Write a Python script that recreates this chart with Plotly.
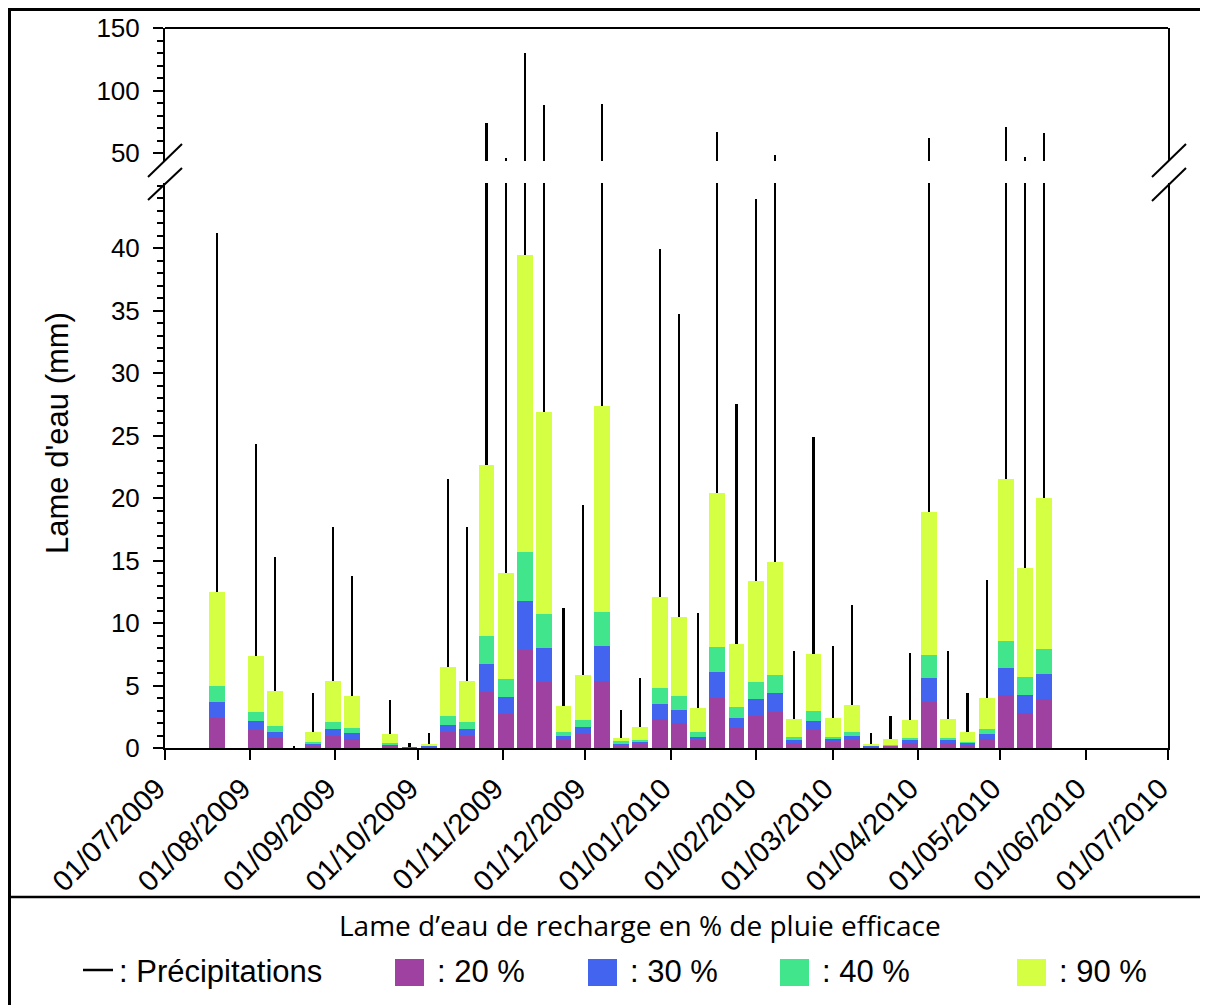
import plotly.graph_objects as go
import pandas as pd

# ---- data ----
week_start = "2009-07-20"
n_weeks = 44
weeks = pd.date_range(week_start, periods=n_weeks, freq="7D")

precip = [41.2, 0, 24.3, 15.25, 0.2, 4.43, 17.65, 13.8, 0, 3.81,
          0.4, 1.2, 21.5, 17.65, 74.5, 46.0, 130.0, 88.4, 11.23, 19.45,
          89.7, 3.01, 5.63, 39.95, 34.7, 10.83, 67.3, 27.5, 43.95, 48.6,
          7.79, 24.9, 8.19, 11.41, 1.17, 2.56, 7.63, 62.5, 7.79, 4.4,
          13.41, 71.0, 46.8, 66.0]
r20 = [2.43, 0, 1.41, 0.83, 0, 0.16, 0.99, 0.75, 0, 0.19,
       0.02, 0.06, 1.25, 0.99, 4.45, 2.75, 7.81, 5.25, 0.61, 1.09,
       5.36, 0.19, 0.35, 2.29, 2.03, 0.64, 4.0, 1.6, 2.59, 2.88,
       0.37, 1.44, 0.45, 0.61, 0.08, 0.1, 0.37, 3.68, 0.37, 0.24,
       0.72, 4.24, 2.83, 3.95]
r30 = [3.71, 0, 2.16, 1.28, 0, 0.32, 1.49, 1.2, 0, 0.27,
       0.03, 0.09, 1.87, 1.52, 6.69, 4.11, 11.73, 7.97, 0.93, 1.65,
       8.13, 0.32, 0.48, 3.55, 3.07, 0.91, 6.05, 2.43, 3.89, 4.37,
       0.64, 2.13, 0.69, 0.96, 0.1, 0.16, 0.61, 5.57, 0.61, 0.37,
       1.12, 6.37, 4.24, 5.92]
r40 = [4.93, 0, 2.91, 1.73, 0, 0.48, 2.05, 1.6, 0, 0.37,
       0.04, 0.12, 2.53, 2.05, 8.99, 5.52, 15.65, 10.69, 1.25, 2.27,
       10.85, 0.53, 0.61, 4.77, 4.16, 1.25, 8.08, 3.31, 5.28, 5.81,
       0.85, 2.93, 0.91, 1.31, 0.16, 0.21, 0.83, 7.47, 0.83, 0.48,
       1.55, 8.53, 5.71, 7.95]
r90 = [12.45, 0, 7.33, 4.56, 0, 1.31, 5.33, 4.13, 0, 1.09,
       0.08, 0.35, 6.5, 5.33, 22.64, 13.97, 39.41, 26.9, 3.33, 5.81,
       27.33, 0.83, 1.65, 12.11, 10.48, 3.23, 20.4, 8.29, 13.33, 14.85,
       2.29, 7.49, 2.43, 3.41, 0.32, 0.75, 2.27, 18.88, 2.29, 1.28,
       4.03, 21.52, 14.43, 20.03]

series_labels = [": 20 %", ": 30 %", ": 40 %", ": 90 %"]
precip_label = ": Précipitations"
legend_title = "Lame d\u2019eau de recharge en % de pluie efficace"
y_title = "Lame d'eau (mm)"
lower_ticks = [0, 5, 10, 15, 20, 25, 30, 35, 40]
upper_ticks = [50, 100, 150]

# ---- style ----
PURPLE = "#9E41A0"
BLUE = "#4264EE"
GREEN = "#40E58C"
YELLOW = "#D4FF42"
colors = [PURPLE, BLUE, GREEN, YELLOW]
DAY = 86400000
FONT = "Liberation Sans, Arial, sans-serif"

# page offset of the figure (browser default body margin)
OFF = 8
W, H = 1208 - OFF, 1005 - OFF
# plot area in page pixels
L, R, T, B = 165, 1168, 28, 748
PW, PH = R - L, B - T


def px(x):
    return (x - L) / PW


def py(y):
    return (B - y) / PH


fig = go.Figure()

# precipitation sticks (behind the bars), on both the lower and the upper panels
for yax in ["y", "y2"]:
    fig.add_trace(go.Bar(x=weeks, y=precip, width=0.8 * DAY, marker_color="black",
                         marker_line_width=0, opacity=1, xaxis="x", yaxis=yax,
                         showlegend=False, hoverinfo="skip"))

# recharge bars, overlaid: 90 % at the back, 20 % in front
for vals, col in [(r90, YELLOW), (r40, GREEN), (r30, BLUE), (r20, PURPLE)]:
    fig.add_trace(go.Bar(x=weeks, y=vals, width=5.75 * DAY, marker_color=col,
                         marker_line_width=0, opacity=1, xaxis="x", yaxis="y",
                         showlegend=False))

lower_top = py(183)
upper_bottom = py(161)

fig.update_layout(
    width=W, height=H,
    margin=dict(l=L - OFF, r=1208 - R, t=T - OFF, b=1005 - B, pad=0, autoexpand=False),
    paper_bgcolor="white", plot_bgcolor="white",
    barmode="overlay", bargap=0,
    showlegend=False,
    font=dict(family=FONT, color="black", size=25),
    xaxis=dict(
        type="date", range=["2009-07-01", "2010-07-01"],
        tick0="2009-07-01", dtick="M1", tickformat="%d/%m/%Y",
        tickangle=-45, ticks="outside", ticklen=10, tickwidth=2, tickcolor="black",
        showline=True, linewidth=2, linecolor="black", showgrid=False, zeroline=False,
        tickfont=dict(size=29, family=FONT), anchor="y", automargin=False,
        ticklabelshift=-8,
    ),
    yaxis=dict(
        domain=[0, lower_top], range=[0, 45.2],
        tickmode="array", tickvals=lower_ticks,
        ticks="outside", ticklen=10, tickwidth=2, tickcolor="black",
        minor=dict(tick0=0, dtick=1, ticks="outside", ticklen=6, tickwidth=2, tickcolor="black"),
        showline=True, mirror=True, linewidth=2, linecolor="black",
        showgrid=False, zeroline=False, tickfont=dict(size=26, family=FONT), anchor="x",
        automargin=False, ticklabelstandoff=8,
    ),
    yaxis2=dict(
        domain=[upper_bottom, 1], range=[43.8, 150],
        tickmode="array", tickvals=upper_ticks,
        ticks="outside", ticklen=10, tickwidth=2, tickcolor="black",
        minor=dict(tick0=0, dtick=10, ticks="outside", ticklen=6, tickwidth=2, tickcolor="black"),
        showline=True, mirror=True, linewidth=2, linecolor="black",
        showgrid=False, zeroline=False, tickfont=dict(size=26, family=FONT), anchor="x",
        automargin=False, ticklabelstandoff=8,
    ),
)

shapes = []
# top frame of the upper panel
shapes.append(dict(type="line", xref="paper", yref="paper", x0=0, x1=1, y0=1, y1=1,
                   line=dict(color="black", width=2)))
# axis-break marks
for (x0, y0, x1, y1) in [(148, 177, 182, 144), (148, 200, 182, 168),
                         (1152, 177, 1186, 144), (1152, 201, 1186, 168)]:
    shapes.append(dict(type="line", xref="paper", yref="paper",
                       x0=px(x0), y0=py(y0), x1=px(x1), y1=py(y1),
                       line=dict(color="black", width=2)))
# outer figure border and legend separator
shapes.append(dict(type="line", xref="paper", yref="paper", x0=px(8), x1=px(1212),
                   y0=py(9.5), y1=py(9.5), line=dict(color="black", width=3)))
shapes.append(dict(type="line", xref="paper", yref="paper", x0=px(9.5), x1=px(9.5),
                   y0=py(8), y1=py(1010), line=dict(color="black", width=3)))
shapes.append(dict(type="line", xref="paper", yref="paper", x0=px(8), x1=px(1212),
                   y0=py(897), y1=py(897), line=dict(color="black", width=2.5)))

# legend keys
leg_y = 972
shapes.append(dict(type="line", xref="paper", yref="paper", x0=px(83), x1=px(113),
                   y0=py(970), y1=py(970), line=dict(color="black", width=2.5)))
key_x = [395, 588, 780, 1017]
for kx, col in zip(key_x, colors):
    shapes.append(dict(type="rect", xref="paper", yref="paper",
                       x0=px(kx), x1=px(kx + 29), y0=py(leg_y - 13), y1=py(leg_y + 14),
                       fillcolor=col, line=dict(width=0)))

annotations = []
annotations.append(dict(text=y_title, xref="paper", yref="paper", x=px(57), y=py(433),
                        textangle=-90, showarrow=False, xanchor="center", yanchor="middle",
                        font=dict(size=31, family=FONT)))
annotations.append(dict(text=legend_title, xref="paper", yref="paper", x=px(640), y=py(925),
                        showarrow=False, xanchor="center", yanchor="middle",
                        font=dict(size=28, family="Open Sans, sans-serif")))
annotations.append(dict(text=precip_label, xref="paper", yref="paper", x=px(117), y=py(971),
                        showarrow=False, xanchor="left", yanchor="middle",
                        font=dict(size=31, family=FONT)))
for kx, lab in zip(key_x, series_labels):
    annotations.append(dict(text=lab, xref="paper", yref="paper", x=px(kx + 40), y=py(971),
                            showarrow=False, xanchor="left", yanchor="middle",
                            font=dict(size=31, family=FONT)))

fig.update_layout(shapes=shapes, annotations=annotations)
fig.write_html("out.html")
